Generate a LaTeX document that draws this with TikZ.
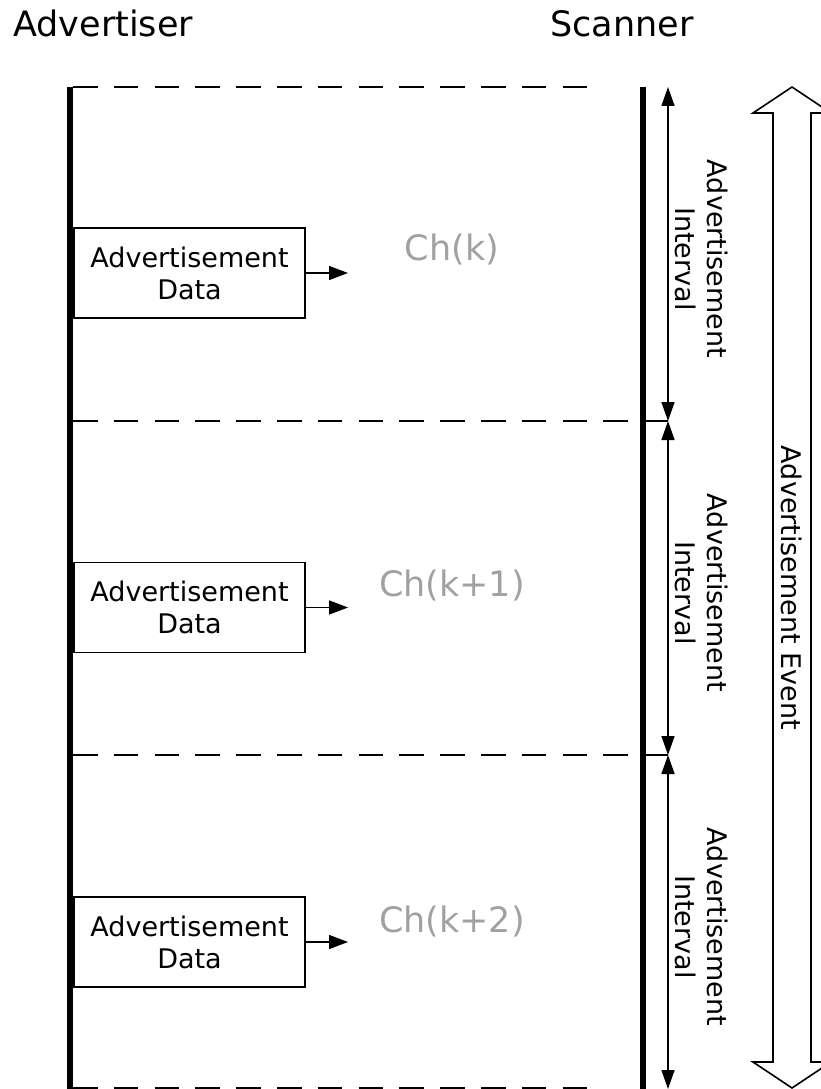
\documentclass[tikz,border=0pt]{standalone}
\usepackage{fontspec}
\setmainfont{DejaVu Sans}
\usetikzlibrary{arrows.meta}
\begin{document}
\begin{tikzpicture}[x=1pt,y=-1pt,
  lifeline/.style={line width=5.5pt},
  slotline/.style={line width=1.6pt, dash pattern=on 24.5pt off 16.3pt},
  databox/.style={draw, line width=1.5pt, minimum width=231pt, minimum height=90pt,
    inner sep=0pt, align=center, font=\fontsize{27}{32}\selectfont},
  sendarrow/.style={line width=1.5pt, -{Triangle[length=19pt,width=14pt]}},
  spanarrow/.style={line width=1.4pt, {Triangle[length=19pt,width=13pt]}-{Triangle[length=19pt,width=13pt]}},
  chan/.style={text=black!37, font=\fontsize{35}{40}\selectfont, inner sep=0pt},
  title/.style={font=\fontsize{35}{40}\selectfont, inner sep=0pt},
  spanlabel/.style={rotate=-90, align=center, inner sep=0pt, font=\fontsize{27}{32}\selectfont}]
  \useasboundingbox (0,0) rectangle (821,1089);

  % column titles
  \node[title, anchor=base west] (adv) at (13,37) {Advertiser};
  \node[title, anchor=base] (scn) at (622,37) {Scanner};

  % lifelines
  \coordinate (aTop) at (70,87);
  \coordinate (aBot) at (70,1089);
  \coordinate (sTop) at (643,87);
  \coordinate (sBot) at (643,1089);
  \draw[lifeline] (aTop) -- (aBot);
  \draw[lifeline] (sTop) -- (sBot);

  % interval boundaries
  \coordinate (d0a) at (73,87);   \coordinate (d0b) at (603,87);
  \coordinate (d1a) at (73,421);  \coordinate (d1b) at (668,421);
  \coordinate (d2a) at (73,755);  \coordinate (d2b) at (668,755);
  \coordinate (d3a) at (73,1088); \coordinate (d3b) at (603,1088);
  \draw[slotline] (d0a) -- (d0b);
  \draw[slotline] (d1a) -- (d1b);
  \draw[slotline] (d2a) -- (d2b);
  \draw[slotline] (d3a) -- (d3b);

  % advertisement packets
  \node[databox] (b1) at (189.5,273) {Advertisement\\Data};
  \node[databox] (b2) at (189.5,607.5) {Advertisement\\Data};
  \node[databox] (b3) at (189.5,942) {Advertisement\\Data};
  \coordinate (t1) at (348,273);
  \coordinate (t2) at (348,607.5);
  \coordinate (t3) at (348,942);
  \draw[sendarrow] (b1.east) -- (t1);
  \draw[sendarrow] (b2.east) -- (t2);
  \draw[sendarrow] (b3.east) -- (t3);

  % channels
  \node[chan] (c1) at (452,250) {Ch(k)};
  \node[chan] (c2) at (452,586) {Ch(k+1)};
  \node[chan] (c3) at (452,921) {Ch(k+2)};

  % interval spans
  \coordinate (i0) at (668,87);
  \coordinate (i1) at (668,421);
  \coordinate (i2) at (668,755);
  \coordinate (i3) at (668,1089);
  \draw[spanarrow] (i0) -- (i1);
  \draw[spanarrow] (i1) -- (i2);
  \draw[spanarrow] (i2) -- (i3);
  \node[spanlabel] (l1) at (702,259) {Advertisement\\Interval};
  \node[spanlabel] (l2) at (702,593) {Advertisement\\Interval};
  \node[spanlabel] (l3) at (702,927) {Advertisement\\Interval};

  % advertising event
  \draw[line width=1.6pt, line join=miter]
    (792,87) -- (831,113) -- (811,113) -- (811,1062) -- (831,1062)
    -- (792,1088) -- (753,1062) -- (773,1062) -- (773,113) -- (753,113) -- cycle;
  \node[spanlabel] (ev) at (792,588) {Advertisement Event};
\end{tikzpicture}
\end{document}
